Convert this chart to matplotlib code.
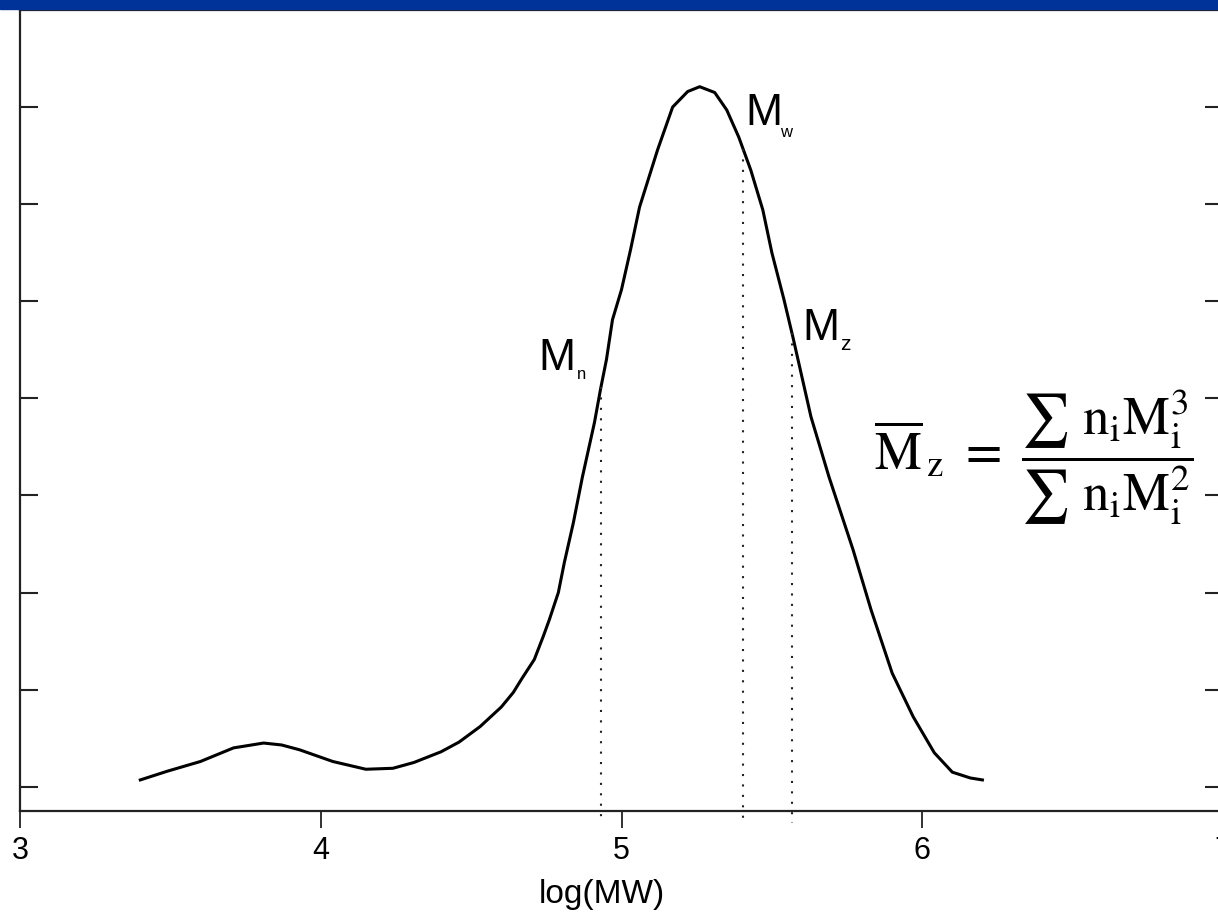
import numpy as np
import matplotlib
matplotlib.use('Agg')
import matplotlib.pyplot as plt
from matplotlib.patches import Rectangle

W, H = 1218, 913

# GPC trace
log_mw = [3.40, 3.49, 3.60, 3.71, 3.81, 3.87, 3.93, 4.04, 4.15, 4.24,
          4.31, 4.40, 4.46, 4.53, 4.60, 4.64, 4.67, 4.71, 4.74, 4.76,
          4.79, 4.81, 4.84, 4.87, 4.91, 4.93, 4.95, 4.97, 5.00, 5.03,
          5.06, 5.12, 5.17, 5.22, 5.26, 5.31, 5.35, 5.39, 5.43, 5.47,
          5.50, 5.54, 5.57, 5.63, 5.69, 5.77, 5.83, 5.90, 5.97, 6.04,
          6.10, 6.16, 6.20]
signal = [0.07, 0.16, 0.26, 0.40, 0.45, 0.43, 0.38, 0.26, 0.18, 0.19,
          0.25, 0.36, 0.46, 0.62, 0.82, 0.97, 1.12, 1.31, 1.55, 1.72,
          2.00, 2.31, 2.72, 3.19, 3.75, 4.09, 4.40, 4.81, 5.12, 5.53,
          5.97, 6.56, 7.00, 7.16, 7.21, 7.15, 6.97, 6.69, 6.35, 5.94,
          5.50, 5.02, 4.63, 3.81, 3.19, 2.44, 1.82, 1.17, 0.72, 0.35,
          0.15, 0.09, 0.07]

# averages marked with dotted lines
avg_names = ['n', 'w', 'z']
avg_pos = [4.932, 5.404, 5.567]

x_ticks = [3, 4, 5, 6, 7]
y_ticks = [0, 1, 2, 3, 4, 5, 6, 7]

fig = plt.figure(figsize=(W / 100, H / 100), dpi=100)
ax = fig.add_axes([20 / W, 1 - 811 / H, 1203 / W, 801 / H])

ax.plot(log_mw, signal, color='black', lw=2.2, solid_joinstyle='round')

# curve is single-peaked on the main part, so look up each side separately
ipk = int(np.argmax(signal))
for name, xv in zip(avg_names, avg_pos):
    if xv <= log_mw[ipk]:
        top = np.interp(xv, log_mw[:ipk + 1], signal[:ipk + 1])
    else:
        top = np.interp(xv, log_mw[ipk:], signal[ipk:])
    ax.plot([xv, xv], [top, -0.37], color='#222222', lw=1.5,
            linestyle=(0, (1, 4)), clip_on=False)

ax.set_xlim(3, 7)
ax.set_ylim(-0.25, 8.0)
ax.set_xticks(x_ticks)
ax.set_xticklabels([str(t) for t in x_ticks], fontsize=22,
                   family='Liberation Sans')
ax.set_yticks(y_ticks)
ax.set_yticklabels([])
ax.tick_params(axis='x', direction='out', length=12, width=1.3, pad=6,
               color='#222222')
ax.tick_params(axis='y', direction='in', length=13, width=1.5,
               left=True, right=True, color='#222222')
for s in ax.spines.values():
    s.set_linewidth(1.6)
    s.set_color('#222222')


def px(x, y):
    return x / W, 1 - y / H


sans = 'Liberation Sans'
# M labels next to the curve
fig.text(*px(538, 370), 'M', fontsize=32, family=sans, va='baseline')
fig.text(*px(577, 379), 'n', fontsize=12, family=sans, va='baseline')
fig.text(*px(745, 125), 'M', fontsize=32, family=sans, va='baseline')
fig.text(*px(780, 137), 'w', fontsize=12, family=sans, va='baseline')
fig.text(*px(802, 340), 'M', fontsize=32, family=sans, va='baseline')
fig.text(*px(840, 350), 'z', fontsize=15, family=sans, va='baseline')

plt.rcParams['mathtext.fontset'] = 'stix'
fig.text(*px(1034, 457),
         r'$\overline{\mathrm{M}}_{\mathrm{\,z}}\ =\ \dfrac{\sum\ \mathrm{n}_{\mathrm{i}}\mathrm{M}_{\mathrm{i}}^{3}}'
         r'{\sum\ \mathrm{n}_{\mathrm{i}}\mathrm{M}_{\mathrm{i}}^{2}}$',
         fontsize=38, ha='center', va='center')

fig.text(*px(602, 903), 'log(MW)', fontsize=24, family=sans,
         ha='center', va='baseline')

# blue title strip at the very top
fig.patches.append(Rectangle((0, 1 - 9 / H), 1, 9 / H,
                             transform=fig.transFigure, color='#003399'))

fig.savefig('out.png', dpi=100)
